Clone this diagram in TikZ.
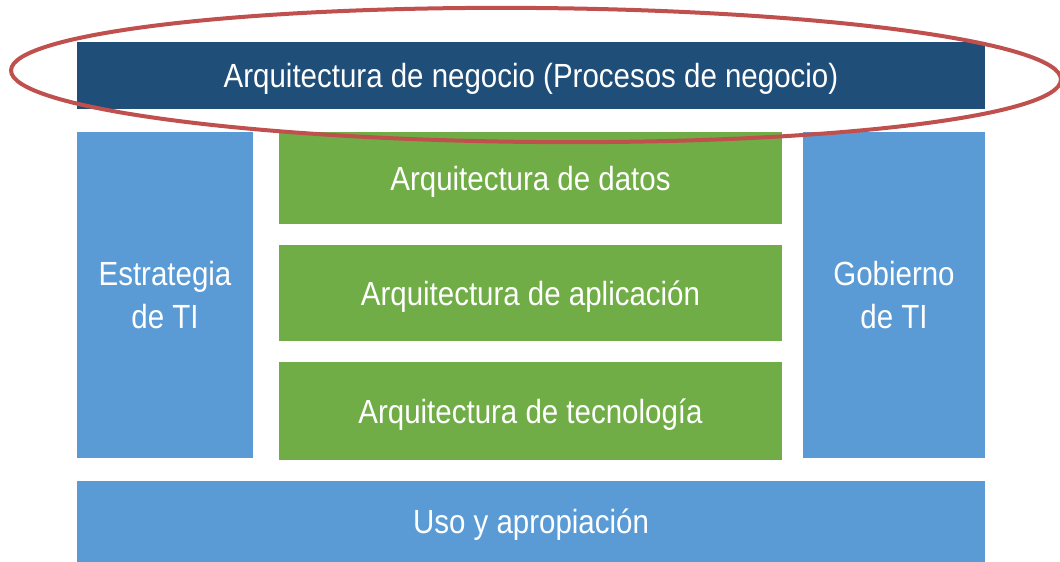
\documentclass[tikz,border=0pt]{standalone}
\usepackage{fontspec}
\setmainfont{Liberation Sans}[FakeStretch=0.88]
\definecolor{darkblue}{HTML}{1F4E79}
\definecolor{lightblue}{HTML}{5B9BD5}
\definecolor{grn}{HTML}{70AD47}
\definecolor{redline}{HTML}{C0504D}
\begin{document}
\begin{tikzpicture}[x=1pt,y=-1pt,
  box/.style={draw=none,rectangle,inner sep=0pt,text=white,font=\fontsize{33.5}{43}\selectfont,align=center,text depth=0pt},
]
\useasboundingbox (0,0) rectangle (1060,562);
\fill[white] (0,0) rectangle (1060,562);
\node[box,fill=darkblue,minimum width=908,minimum height=67] (neg) at (531,75.5) {Arquitectura de negocio (Procesos de negocio)};
\node[box,fill=lightblue,minimum width=176,minimum height=326] (est) at (165,295) {Estrategia\\de TI};
\node[box,fill=grn,minimum width=503,minimum height=92] (dat) at (530.5,178) {Arquitectura de datos};
\node[box,fill=grn,minimum width=503,minimum height=96] (apl) at (530.5,293) {Arquitectura de aplicación};
\node[box,fill=grn,minimum width=503,minimum height=98] (tec) at (530.5,411) {Arquitectura de tecnología};
\node[box,fill=lightblue,minimum width=182,minimum height=326] (gob) at (894,295) {Gobierno\\de TI};
\node[box,fill=lightblue,minimum width=908,minimum height=81] (uso) at (531,521.5) {Uso y apropiación};
\draw[redline,line width=4pt,rotate around={-0.5:(536,75)}] (536,75) ellipse [x radius=525, y radius=67];
\end{tikzpicture}
\end{document}
